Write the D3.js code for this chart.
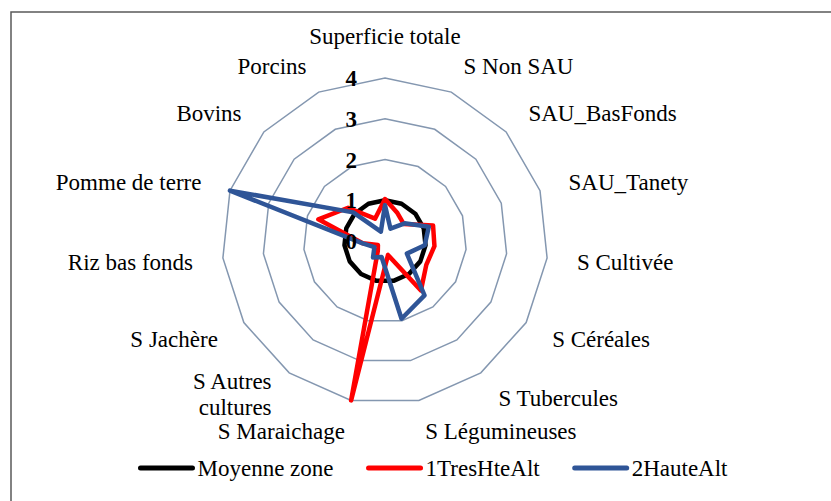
<!DOCTYPE html>
<meta charset="utf-8">
<style>
body { margin: 0; background: #fff; }
svg text { font-family: "Liberation Serif", "DejaVu Serif", Tinos, "Times New Roman", serif; fill: #000; }
.frame { fill: #fff; stroke: #595959; stroke-width: 1.5px; }
.grid { fill: none; stroke: #8497B0; stroke-width: 1.5px; }
.serie { fill: none; stroke-width: 4.5px; stroke-linejoin: round; }
.tick { font-weight: bold; font-size: 23px; }
.cat, .legend text { font-size: 23px; }
</style>
<body>
<svg width="831" height="501"></svg>
<script src="https://cdn.jsdelivr.net/npm/d3@7"></script>
<script>

var categories = ["Superficie totale", "S Non SAU", "SAU_BasFonds", "SAU_Tanety", "S Cultivée",
  "S Céréales", "S Tubercules", "S Légumineuses", "S Maraichage", "S Autres\ncultures",
  "S Jachère", "Riz bas fonds", "Pomme de terre", "Bovins", "Porcins"];

var moyenneZone = [1, 1, 1, 1, 1, 1, 1, 1, 1, 1, 1, 1, 1, 1, 1];
var tresHteAlt  = [1.03, 0.75, 0.62, 1.24, 1.22, 1.17, 1.5, 0.35, 4.0, 0.3, 0.2, 0.55, 1.72, 1.22, 0.6];
var hauteAlt    = [0.88, 0.33, 0.65, 1.13, 0.98, 0.62, 1.65, 1.95, 0.4, 0.5, 0.3, 0.55, 4.0, 1.05, 0.25];

var seriesNames  = ["Moyenne zone", "1TresHteAlt", "2HauteAlt"];
var seriesColors = ["#000000", "#FF0000", "#2F5597"];
var tickValues = [0, 1, 2, 3, 4];

var cx = 385, cy = 241, R = 163;
var fontFam = "'Liberation Serif', 'DejaVu Serif', serif";

var svg = d3.select("svg");

svg.append("rect")
  .attr("class", "frame")
  .attr("x", 11).attr("y", 12)
  .attr("width", 900).attr("height", 600);

var g = svg.append("g")
  .attr("transform", "translate(" + cx + "," + cy + ")");

var r = d3.scaleLinear().domain([0, 4]).range([0, R]);
var angle = d3.scaleLinear().domain([0, categories.length]).range([0, 2 * Math.PI]);

var radar = d3.lineRadial()
  .angle(function(d, i) { return angle(i); })
  .radius(function(d) { return r(d); })
  .curve(d3.curveLinearClosed);

// rings
g.selectAll(".grid")
  .data(tickValues.slice(1))
  .enter().append("path")
  .attr("class", "grid")
  .attr("d", function(t) { return radar(categories.map(function() { return t; })); });

// series
var series = [moyenneZone, tresHteAlt, hauteAlt];
g.selectAll(".serie")
  .data(series)
  .enter().append("path")
  .attr("class", "serie")
  .style("stroke", function(d, i) { return seriesColors[i]; })
  .attr("d", radar);

// tick labels
g.selectAll(".tick")
  .data(tickValues)
  .enter().append("text")
  .attr("class", "tick")
  .attr("font-family", fontFam)
  .attr("x", -28)
  .attr("y", function(t) { return -r(t); })
  .attr("dy", "0.35em")
  .attr("text-anchor", "end")
  .text(function(t) { return t; });

// category labels
var labelR = R + 30;
g.selectAll(".cat")
  .data(categories)
  .enter().append("text")
  .attr("class", "cat")
  .attr("font-family", fontFam)
  .each(function(name, i) {
    var a = angle(i), s = Math.sin(a), c = Math.cos(a);
    var x = s * labelR, y = -c * labelR + 1;
    if (Math.abs(s) < 0.1) y -= 13;
    var lines = name.split("\n");
    if (lines.length > 1) y -= 4;
    var t = d3.select(this)
      .attr("text-anchor", s > 0.1 ? "start" : (s < -0.1 ? "end" : "middle"));
    lines.forEach(function(l, k) {
      t.append("tspan")
        .attr("x", x)
        .attr("y", y + (k - (lines.length - 1) / 2) * 26)
        .attr("dy", "0.35em")
        .text(l);
    });
  });

// legend
var legend = svg.append("g").attr("class", "legend");
var lx = 0;
seriesNames.forEach(function(name, i) {
  var item = legend.append("g").attr("transform", "translate(" + lx + ",0)");
  item.append("line")
    .attr("x1", 2).attr("x2", 54)
    .attr("y1", 0).attr("y2", 0)
    .style("stroke", seriesColors[i])
    .style("stroke-width", 5)
    .style("stroke-linecap", "round");
  var t = item.append("text")
    .attr("font-family", fontFam)
    .attr("x", 59).attr("dy", "0.35em")
    .text(name);
  lx += 59 + t.node().getComputedTextLength() + 33;
});
var legendW = lx - 33;
legend.attr("transform", "translate(" + (433 - legendW / 2) + ",468)");

</script>
</body>
